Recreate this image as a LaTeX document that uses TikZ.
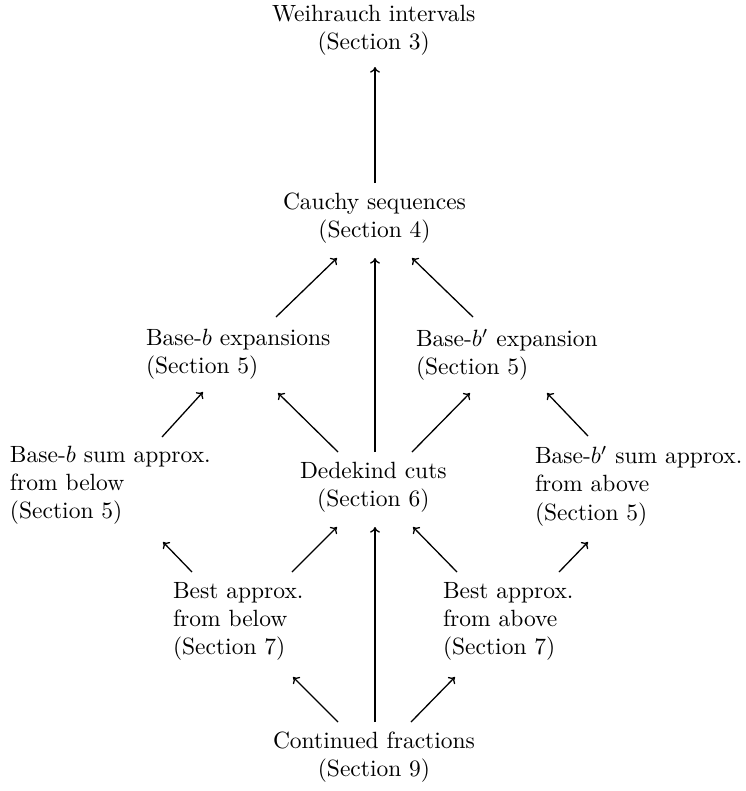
\documentclass[tikz,border=0pt]{standalone}
\usetikzlibrary{arrows.meta}
\begin{document}
\begin{tikzpicture}[x=0.4255pt, y=-0.4255pt,
  lbl/.style={inner sep=0pt, outer sep=0pt, anchor=north west, align=left},
  clbl/.style={inner sep=0pt, outer sep=0pt, anchor=north west, align=center},
  arr/.style={-{To[length=2.4pt,width=4.2pt]}, line width=0.55pt}]
\useasboundingbox (0,0) rectangle (746,791);
\node[clbl] (W) at (272,5) {Weihrauch intervals\\(Section 3)};
\node[clbl] (C) at (283,193) {Cauchy sequences\\(Section 4)};
\node[lbl] (Bexp) at (146,329) {Base-$b$ expansions\\(Section 5)};
\node[lbl] (Bpexp) at (416,329) {Base-$b'$ expansion\\(Section 5)};
\node[lbl] (Bsum) at (10,446) {Base-$b$ sum approx.\\from below\\(Section 5)};
\node[clbl] (D) at (300,462) {Dedekind cuts\\(Section 6)};
\node[lbl] (Bpsum) at (535,446) {Base-$b'$ sum approx.\\from above\\(Section 5)};
\node[lbl] (Bbelow) at (173,582) {Best approx.\\from below\\(Section 7)};
\node[lbl] (Babove) at (443,582) {Best approx.\\from above\\(Section 7)};
\node[clbl] (CF) at (273,732) {Continued fractions\\(Section 9)};

\draw[arr] ([shift={(92,-10)}]C.north west) -- ([shift={(103,62)}]W.north west);
\draw[arr] ([shift={(130,-12)}]Bexp.north west) -- ([shift={(54,65)}]C.north west);
\draw[arr] ([shift={(75,-10)}]D.north west) -- ([shift={(92,65)}]C.north west);
\draw[arr] ([shift={(57,-12)}]Bpexp.north west) -- ([shift={(129,65)}]C.north west);
\draw[arr] ([shift={(152,-9)}]Bsum.north west) -- ([shift={(57,63)}]Bexp.north west);
\draw[arr] ([shift={(38,-10)}]D.north west) -- ([shift={(132,64)}]Bexp.north west);
\draw[arr] ([shift={(112,-10)}]D.north west) -- ([shift={(54,64)}]Bpexp.north west);
\draw[arr] ([shift={(53,-10)}]Bpsum.north west) -- ([shift={(131,64)}]Bpexp.north west);
\draw[arr] ([shift={(19,-10)}]Bbelow.north west) -- ([shift={(153,96)}]Bsum.north west);
\draw[arr] ([shift={(119,-10)}]Bbelow.north west) -- ([shift={(37,65)}]D.north west);
\draw[arr] ([shift={(102,-10)}]CF.north west) -- ([shift={(75,65)}]D.north west);
\draw[arr] ([shift={(14,-10)}]Babove.north west) -- ([shift={(113,65)}]D.north west);
\draw[arr] ([shift={(116,-10)}]Babove.north west) -- ([shift={(53,96)}]Bpsum.north west);
\draw[arr] ([shift={(65,-10)}]CF.north west) -- ([shift={(120,95)}]Bbelow.north west);
\draw[arr] ([shift={(138,-10)}]CF.north west) -- ([shift={(12,95)}]Babove.north west);
\end{tikzpicture}
\end{document}
